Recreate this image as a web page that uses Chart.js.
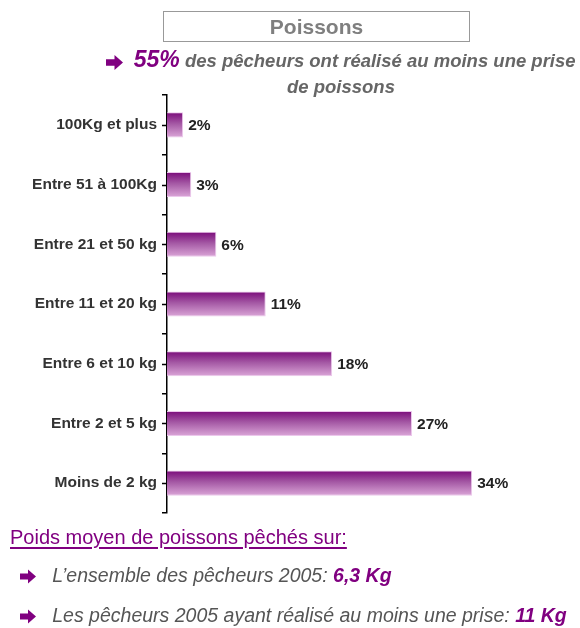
<!DOCTYPE html>
<html>
<head>
<meta charset="utf-8">
<script src="https://cdn.jsdelivr.net/npm/chart.js@4"></script>
<style>
  body { margin: 0; background: #fff; font-family: 'Liberation Sans', Arial, sans-serif; }
  #wrap { position: relative; width: 580px; height: 628px; overflow: hidden; }
  #chartCanvas { position: absolute; left: 0; top: 0; }
  .abs { position: absolute; white-space: nowrap; }
  .titleBox { left: 163px; top: 11px; width: 305px; height: 29px; border: 1px solid #999;
    text-align: center; font-weight: bold; font-size: 21px; line-height: 29px; color: #7f7f7f; }
  .sub { left: 85px; top: 46px; width: 512px; text-align: center; font-weight: bold; font-style: italic;
    font-size: 18.5px; color: #666; line-height: 26px; }
  .pct { color: #800080; font-size: 23px; }
  .arrow { display: inline-block; vertical-align: middle; }
  .foot-h { left: 10px; top: 526px; font-size: 20px; color: #800080; text-decoration: underline;
    text-decoration-thickness: 2px; text-underline-offset: 3px; }
  .bullet { left: 20px; font-size: 19.5px; font-style: italic; color: #555; }
  .bullet b { color: #800080; }
</style>
</head>
<body>
<div id="wrap">
  <canvas id="chartCanvas" width="580" height="628"></canvas>
  <div class="abs titleBox">Poissons</div>
  <div class="abs sub">
    <svg class="arrow" width="17" height="15" viewBox="0 0 16 14"><path d="M0 4h8V0l8 7-8 7v-4H0z" fill="#800080"/></svg>
    &nbsp;<span class="pct">55%</span> des pêcheurs ont réalisé au moins une prise<br>de poissons
  </div>
  <div class="abs foot-h">Poids moyen de poissons pêchés sur:</div>
  <div class="abs bullet" style="top:564px">
    <svg class="arrow" width="16" height="15" viewBox="0 0 16 14"><path d="M0 4h8V0l8 7-8 7v-4H0z" fill="#800080"/></svg>
    &nbsp; L’ensemble des pêcheurs 2005: <b>6,3 Kg</b>
  </div>
  <div class="abs bullet" style="top:604px">
    <svg class="arrow" width="16" height="15" viewBox="0 0 16 14"><path d="M0 4h8V0l8 7-8 7v-4H0z" fill="#800080"/></svg>
    &nbsp; Les pêcheurs 2005 ayant réalisé au moins une prise: <b>11 Kg</b>
  </div>
</div>
<script>
// Poids de poissons pêchés - distribution des pêcheurs
const categories = [
  '100Kg et plus',
  'Entre 51 à 100Kg',
  'Entre 21 et 50 kg',
  'Entre 11 et 20 kg',
  'Entre 6 et 10 kg',
  'Entre 2 et 5 kg',
  'Moins de 2 kg'
];
const shares = [1.8, 2.7, 5.5, 11.0, 18.4, 27.3, 34.0];
const xMax = 40;

const BAR_PCT = 0.42;

// vertical gradient per bar (dark purple on top, light lilac below)
const barFill = (ctx) => {
  const chart = ctx.chart;
  const y = chart.scales.y;
  if (!y || ctx.dataIndex === undefined) return '#a050a0';
  const center = y.getPixelForValue(ctx.dataIndex);
  const half = (y.height / categories.length) * BAR_PCT / 2;
  if (!Number.isFinite(center) || !Number.isFinite(half) || half <= 0) return '#a050a0';
  const g = chart.ctx.createLinearGradient(0, center - half, 0, center + half);
  g.addColorStop(0, '#7a0a7a');
  g.addColorStop(0.45, '#a458a4');
  g.addColorStop(1, '#dba6d8');
  return g;
};

// small ticks at category centers + value labels after each bar
const extrasPlugin = {
  id: 'extras',
  afterDatasetsDraw(chart) {
    const { ctx, scales: { y } } = chart;
    ctx.save();
    ctx.strokeStyle = '#000';
    ctx.lineWidth = 1.5;
    categories.forEach((c, i) => {
      const py = Math.round(y.getPixelForTick(i)) + 0.5;
      ctx.beginPath();
      ctx.moveTo(y.right - 5, py);
      ctx.lineTo(y.right, py);
      ctx.stroke();
    });
    const meta = chart.getDatasetMeta(0);
    ctx.font = 'bold 15.5px "Liberation Sans", Arial, sans-serif';
    ctx.fillStyle = '#222';
    ctx.textBaseline = 'middle';
    meta.data.forEach((bar, i) => {
      ctx.fillText(Math.round(shares[i]) + '%', bar.x + 5, bar.y + 1);
    });
    ctx.restore();
  }
};

new Chart(document.getElementById('chartCanvas'), {
  type: 'bar',
  data: {
    labels: categories,
    datasets: [{
      data: shares,
      backgroundColor: barFill,
      borderColor: '#ecc8ec',
      borderWidth: 1,
      borderSkipped: 'start',
      barPercentage: BAR_PCT,
      categoryPercentage: 1
    }]
  },
  options: {
    indexAxis: 'y',
    responsive: false,
    animation: false,
    layout: { padding: { top: 95, bottom: 115, right: 54, left: 0 } },
    plugins: { legend: { display: false }, tooltip: { enabled: false } },
    scales: {
      x: { display: false, min: 0, max: xMax },
      y: {
        afterFit: (s) => { s.width = 167; },
        border: { display: true, color: '#000', width: 1.5 },
        grid: { offset: true, drawOnChartArea: false, drawTicks: true, tickLength: 5, color: '#000', lineWidth: 1.5 },
        ticks: { color: '#333', padding: 5, font: { family: '"Liberation Sans", Arial, sans-serif', size: 15.5, weight: 'bold' } }
      }
    }
  },
  plugins: [extrasPlugin]
});
</script>
</body>
</html>
